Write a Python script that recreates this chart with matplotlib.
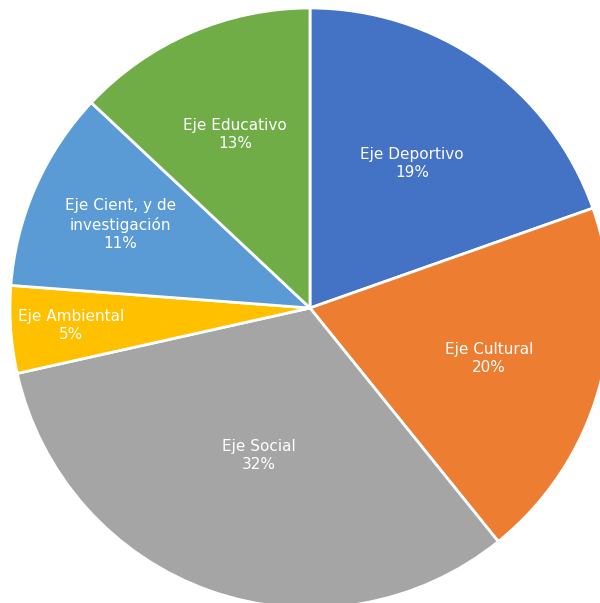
import numpy as np
import matplotlib.pyplot as plt

# data
categories = ['Eje Deportivo', 'Eje Cultural', 'Eje Social', 'Eje Ambiental',
              'Eje Cient, y de\ninvestigación', 'Eje Educativo']
values = [19.6, 19.6, 32.3, 4.7, 10.8, 13.0]
pct_labels = ['19%', '20%', '32%', '5%', '11%', '13%']
colors = ['#4472C4', '#ED7D31', '#A5A5A5', '#FFC000', '#5B9BD5', '#70AD47']
label_r = [0.59, 0.62, 0.52, 0.80, 0.69, 0.63]

fig = plt.figure(figsize=(6, 6.03), dpi=100)
ax = fig.add_axes([0, 0, 1, 1])

wedges, _ = ax.pie(values, colors=colors, startangle=90, counterclock=False,
                   wedgeprops=dict(edgecolor='white', linewidth=2))

# labels inside the slices
for w, name, pct, r in zip(wedges, categories, pct_labels, label_r):
    ang = np.deg2rad((w.theta1 + w.theta2) / 2)
    ax.text(r * np.cos(ang), r * np.sin(ang), f'{name}\n{pct}',
            ha='center', va='center', color='white', fontsize=11,
            family=['DejaVu Sans'], linespacing=1.25)

ax.set_xlim(-310 / 300, 290 / 300)
ax.set_ylim(-295 / 300, 308 / 300)
ax.set_aspect('equal')
ax.axis('off')

plt.savefig('out.png', dpi=100)
